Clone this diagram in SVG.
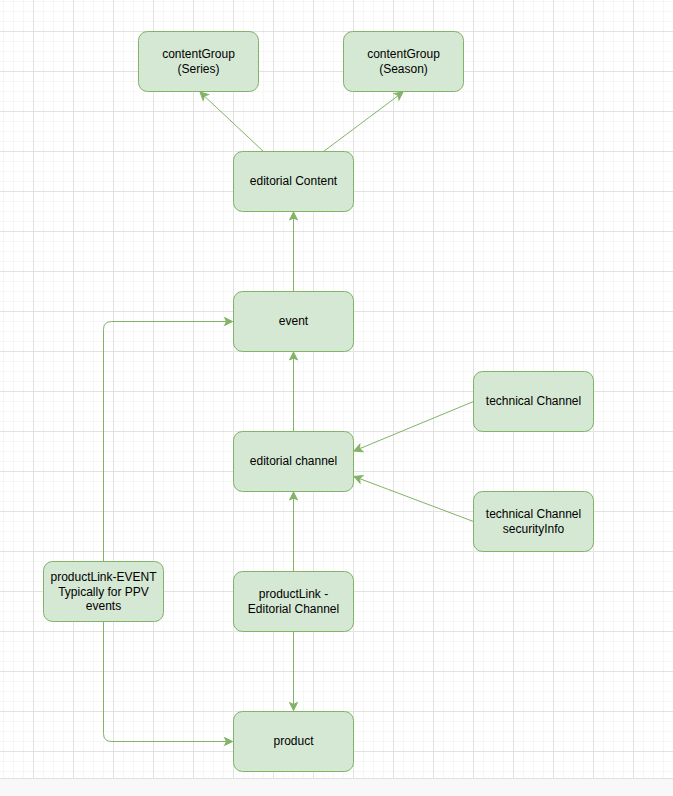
<svg xmlns="http://www.w3.org/2000/svg" width="673" height="796" viewBox="0 0 673 796">
  <style>
    .node rect { fill: #d5e8d4; stroke: #82b366; stroke-width: 1; }
    .node text { font-family: "Liberation Sans", Arial, sans-serif; font-size: 12px; fill: #000000; text-anchor: middle; }
    .edge { fill: none; stroke: #82b366; stroke-width: 1; }
  </style>
  <defs>
    <pattern id="grid" patternUnits="userSpaceOnUse" x="33" y="31" width="40" height="40">
      <rect x="0" y="0" width="40" height="40" fill="#ffffff"/>
      <rect x="10" y="0" width="1" height="40" fill="#f6f6f6"/>
      <rect x="20" y="0" width="1" height="40" fill="#f6f6f6"/>
      <rect x="30" y="0" width="1" height="40" fill="#f6f6f6"/>
      <rect x="0" y="10" width="40" height="1" fill="#f6f6f6"/>
      <rect x="0" y="20" width="40" height="1" fill="#f6f6f6"/>
      <rect x="0" y="30" width="40" height="1" fill="#f6f6f6"/>
      <rect x="0" y="0" width="1" height="40" fill="#e2e2e2"/>
      <rect x="0" y="0" width="40" height="1" fill="#e2e2e2"/>
    </pattern>
    <marker id="arrow" markerUnits="userSpaceOnUse" markerWidth="12" markerHeight="12" viewBox="-10 -6 12 12" refX="0" refY="0" orient="auto">
      <path d="M -8 -4 L 0 0 L -8 4 L -6 0 Z" fill="#82b366" stroke="#82b366" stroke-width="1"/>
    </marker>
  </defs>

  <rect x="0" y="0" width="673" height="778" fill="url(#grid)"/>
  <rect x="0" y="778" width="673" height="1" fill="#e0e0e0"/>
  <rect x="0" y="779" width="673" height="17" fill="#f8f8f8"/>

  <g id="connectors">
    <path class="edge" d="M 263.5 151.5 L 200 92" marker-end="url(#arrow)"/>
    <path class="edge" d="M 323.5 151.5 L 403 92" marker-end="url(#arrow)"/>
    <path class="edge" d="M 293.5 291.5 L 293.5 212" marker-end="url(#arrow)"/>
    <path class="edge" d="M 293.5 431.5 L 293.5 352" marker-end="url(#arrow)"/>
    <path class="edge" d="M 473.5 401.5 L 354 451" marker-end="url(#arrow)"/>
    <path class="edge" d="M 473.5 521.5 L 354 476.5" marker-end="url(#arrow)"/>
    <path class="edge" d="M 293.5 571.5 L 293.5 492" marker-end="url(#arrow)"/>
    <path class="edge" d="M 293.5 631.5 L 293.5 710.5" marker-end="url(#arrow)"/>
    <path class="edge" d="M 103.5 561.5 L 103.5 329.5 Q 103.5 321.5 111.5 321.5 L 232.5 321.5" marker-end="url(#arrow)"/>
    <path class="edge" d="M 103.5 621.5 L 103.5 733.5 Q 103.5 741.5 111.5 741.5 L 232.5 741.5" marker-end="url(#arrow)"/>
  </g>

  <g id="node-series" class="node">
    <rect x="138.5" y="31.5" width="120" height="60" rx="9"/>
    <text x="198.5" y="57.5">contentGroup</text>
    <text x="198.5" y="72.5">(Series)</text>
  </g>
  <g id="node-season" class="node">
    <rect x="343.5" y="31.5" width="120" height="60" rx="9"/>
    <text x="403.5" y="57.5">contentGroup</text>
    <text x="403.5" y="72.5">(Season)</text>
  </g>
  <g id="node-editorial-content" class="node">
    <rect x="233.5" y="151.5" width="120" height="60" rx="9"/>
    <text x="293.5" y="185">editorial Content</text>
  </g>
  <g id="node-event" class="node">
    <rect x="233.5" y="291.5" width="120" height="60" rx="9"/>
    <text x="293.5" y="325">event</text>
  </g>
  <g id="node-technical-channel" class="node">
    <rect x="473.5" y="371.5" width="120" height="60" rx="9"/>
    <text x="533.5" y="405">technical Channel</text>
  </g>
  <g id="node-editorial-channel" class="node">
    <rect x="233.5" y="431.5" width="120" height="60" rx="9"/>
    <text x="293.5" y="465">editorial channel</text>
  </g>
  <g id="node-security-info" class="node">
    <rect x="473.5" y="491.5" width="120" height="60" rx="9"/>
    <text x="533.5" y="518">technical Channel</text>
    <text x="533.5" y="533">securityInfo</text>
  </g>
  <g id="node-productlink-event" class="node">
    <rect x="43.5" y="561.5" width="120" height="60" rx="9"/>
    <text x="103.5" y="581">productLink-EVENT</text>
    <text x="103.5" y="595.5">Typically for PPV</text>
    <text x="103.5" y="610">events</text>
  </g>
  <g id="node-productlink-editorial" class="node">
    <rect x="233.5" y="571.5" width="120" height="60" rx="9"/>
    <text x="293.5" y="598">productLink -</text>
    <text x="293.5" y="613">Editorial Channel</text>
  </g>
  <g id="node-product" class="node">
    <rect x="233.5" y="711.5" width="120" height="60" rx="9"/>
    <text x="293.5" y="745">product</text>
  </g>
</svg>
